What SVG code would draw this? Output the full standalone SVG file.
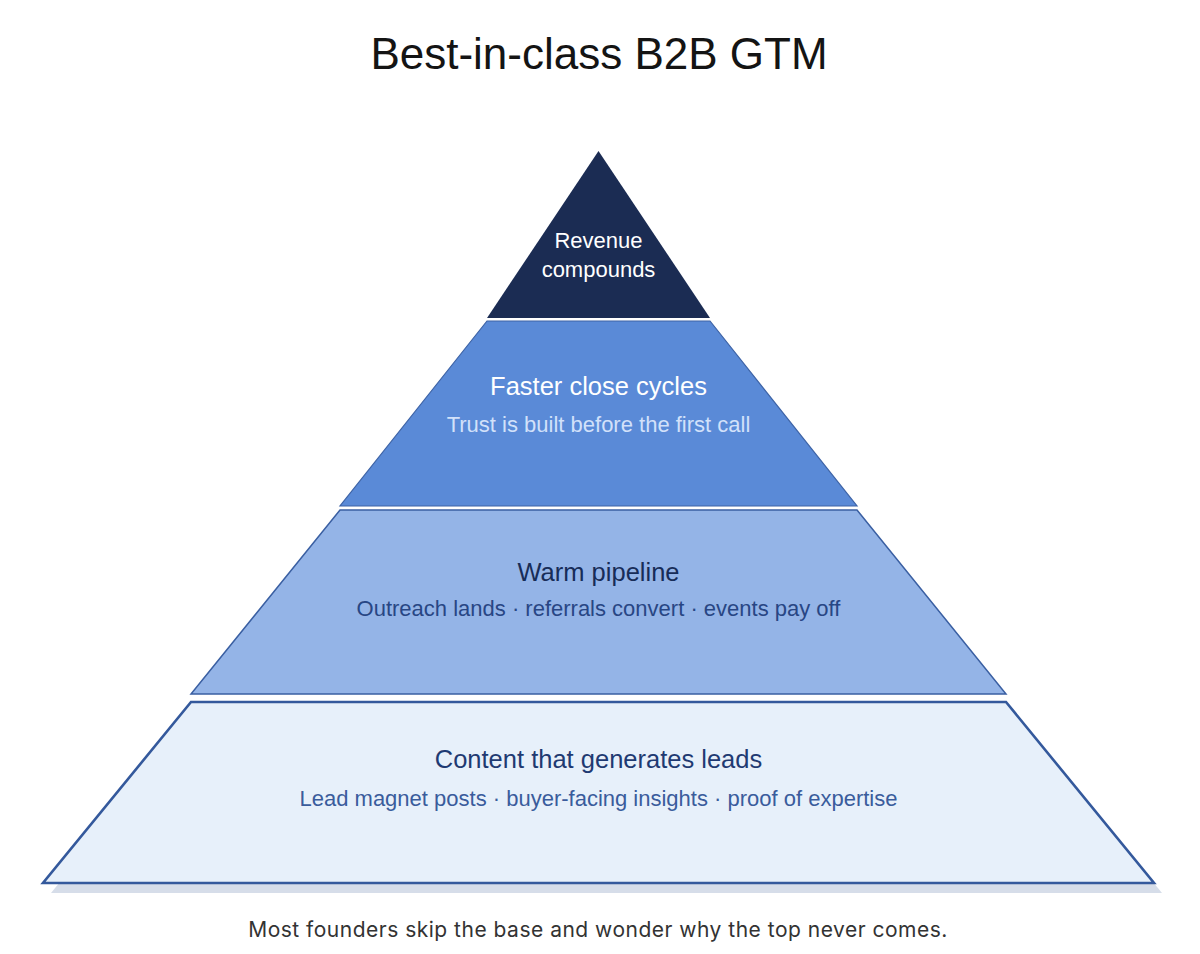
<svg xmlns="http://www.w3.org/2000/svg" width="1200" height="954" viewBox="0 0 1200 954">
  <style>
    .t { font-family: "Liberation Sans", Arial, Helvetica, sans-serif; text-anchor: middle; }
    .title { font-size: 44px; fill: #141414; }
    .h { font-size: 25.5px; }
    .s { font-size: 22px; }
    .cap { font-family: Inter, "Liberation Sans", sans-serif; font-size: 21px; letter-spacing: 0.5px; fill: #333333; text-anchor: middle; }
  </style>
  <rect width="1200" height="954" fill="#ffffff"/>
  <text class="t title" x="599" y="69">Best-in-class B2B GTM</text>

  <g id="tier-revenue">
    <polygon points="598.5,151 710,318 487,318" fill="#1b2c53"/>
    <text class="t s" x="598.5" y="248" fill="#ffffff">Revenue</text>
    <text class="t s" x="598.5" y="277" fill="#ffffff">compounds</text>
  </g>

  <g id="tier-close">
    <polygon points="487,321 710,321 857,506 340,506" fill="#5a8ad7" stroke="#3d63a6" stroke-width="1.2"/>
    <text class="t h" x="598.5" y="395" fill="#ffffff">Faster close cycles</text>
    <text class="t s" x="598.5" y="432" fill="#d2e1fa">Trust is built before the first call</text>
  </g>

  <g id="tier-pipeline">
    <polygon points="340,510 857,510 1006,694 191,694" fill="#94b4e7" stroke="#3a5fa2" stroke-width="1.5"/>
    <text class="t h" x="598.5" y="581" fill="#172c58">Warm pipeline</text>
    <text class="t s" x="598.5" y="616" fill="#284684">Outreach lands · referrals convert · events pay off</text>
  </g>

  <g id="tier-content">
    <polygon points="51,893 1162,893 1014,712 199,712" fill="#d6dde9"/>
    <polygon points="191,702 1006,702 1154,883 43,883" fill="#e7f0fa" stroke="#34599c" stroke-width="2.6" stroke-linejoin="miter"/>
    <text class="t h" x="598.5" y="768" fill="#1f3a72">Content that generates leads</text>
    <text class="t s" x="598.5" y="806" fill="#3a5c9c">Lead magnet posts · buyer-facing insights · proof of expertise</text>
  </g>

  <g id="connectors"></g>

  <text class="cap" x="598" y="937">Most founders skip the base and wonder why the top never comes.</text>
</svg>
